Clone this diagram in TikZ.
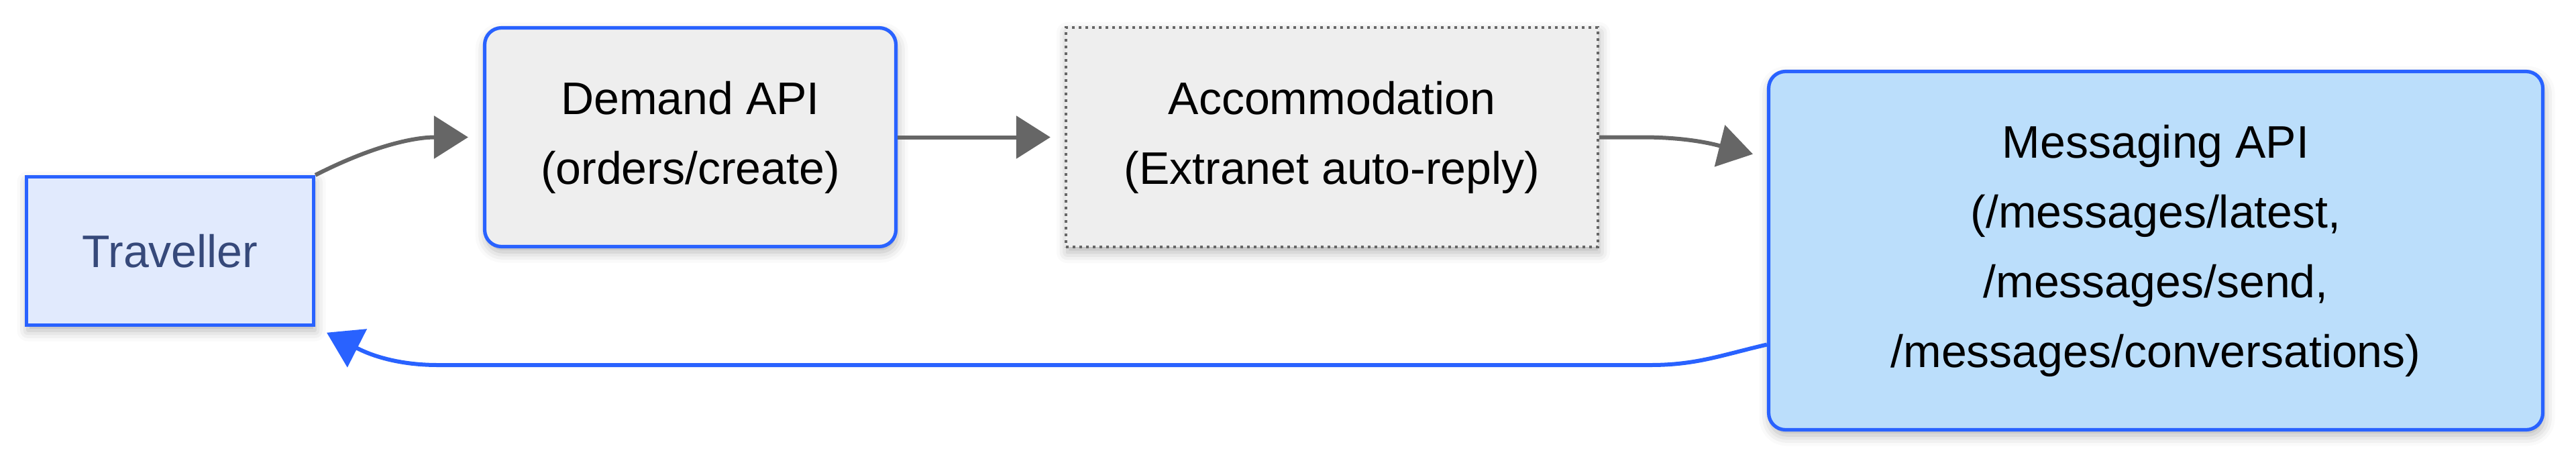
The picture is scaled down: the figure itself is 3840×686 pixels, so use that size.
\documentclass[tikz,border=0pt]{standalone}
\usepackage{fontspec}
\setmainfont{Liberation Sans}
\usetikzlibrary{arrows.meta,shadows.blur}
\definecolor{bordblue}{HTML}{2962FF}
\definecolor{travfill}{HTML}{E1EAFD}
\definecolor{travtext}{HTML}{36497A}
\definecolor{grayfill}{HTML}{EEEEEE}
\definecolor{msgfill}{HTML}{BBDEFB}
\definecolor{arrowgray}{HTML}{666666}
\begin{document}
\begin{tikzpicture}[x=0.25pt,y=-0.25pt,
  box/.style={draw=bordblue, line width=1.3pt, align=center, inner sep=0pt,
    font=\fontsize{17pt}{26pt}\selectfont,
    blur shadow={shadow xshift=0.5pt, shadow yshift=-2pt, shadow blur radius=4pt, shadow opacity=30}},
  roundbox/.style={box, rounded corners=6.25pt},
  dotbox/.style={box, draw=arrowgray, line width=1.1pt, dash pattern=on 1.1pt off 1.4pt},
  garrow/.style={draw=arrowgray, line width=1.5pt, -{Triangle[length=12.75pt,width=15.75pt]}},
  barrow/.style={draw=bordblue, line width=1.5pt, -{Triangle[length=12.75pt,width=15.75pt]}}]
\useasboundingbox (0,0) rectangle (3840,686);
\node[box, fill=travfill, text=travtext, minimum width=107pt, minimum height=55.25pt] (trav) at (253.5,374) {Traveller};
\node[roundbox, fill=grayfill, minimum width=153.25pt, minimum height=81.5pt] (dem) at (1029,204.5) {Demand API\\(orders/create)};
\node[dotbox, fill=grayfill, minimum width=198.25pt, minimum height=81.75pt] (acc) at (1985.5,204.5) {Accommodation\\(Extranet auto-reply)};
\node[roundbox, fill=msgfill, minimum width=288.5pt, minimum height=133.5pt] (msg) at (3213.5,373.5) {Messaging API\\(/messages/latest,\\/messages/send,\\/messages/conversations)};
\coordinate (a3) at ([xshift=16pt]acc.east);
\coordinate (msgin) at ([yshift=-32.75pt]msg.north west);
\coordinate (mout) at ([yshift=-35pt]msg.west);
\coordinate (h1) at (2460,544);
\coordinate (h2) at (653,544);
\draw[garrow, shorten >=5.5pt] (trav.north east) to[out=27,in=180] (dem.west);
\draw[garrow, shorten >=5.25pt] (dem.east) -- (acc.west);
\draw[garrow, shorten >=5.4pt] (acc.east) -- (a3) to[out=0,in=166] (msgin);
\draw[barrow, shorten >=4.75pt] (mout) to[out=193,in=0] (h1) -- (h2) to[out=180,in=-27] (trav.south east);
\end{tikzpicture}
\end{document}
